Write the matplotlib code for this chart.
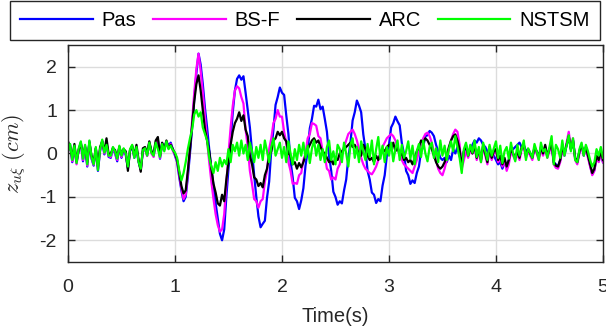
import numpy as np
import matplotlib
matplotlib.use("Agg")
import matplotlib.pyplot as plt

# response z_uxi (cm), sampled every 0.02 s from 0 to 5 s
dt = 0.02

pas = [
    0.08, 0.20, -0.20, 0.12, -0.22, 0.08, 0.24, -0.18, 0.15, -0.30,
    0.28, -0.12, -0.28, 0.12, -0.40, 0.06, 0.28, -0.02, 0.22, -0.08,
    -0.10, 0.12, 0.00, -0.18, 0.15, -0.10, 0.08, -0.04, -0.34, 0.06,
    0.15, -0.10, 0.10, -0.20, -0.36, 0.04, 0.12, -0.04, 0.24, 0.05,
    -0.06, 0.22, 0.30, -0.12, 0.24, 0.12, 0.27, 0.18, 0.25, 0.10,
    -0.05, -0.20, -0.55, -0.85, -1.10, -1.00, -0.55, 0.00, 0.60, 1.25,
    1.85, 2.30, 2.05, 1.60, 1.05, 0.60, 0.10, -0.35, -0.75, -1.15,
    -1.50, -1.85, -2.00, -1.75, -1.00, -0.35, 0.30, 0.95, 1.45, 1.72,
    1.80, 1.70, 1.78, 1.40, 1.00, 0.60, 0.05, -0.50, -1.00, -1.45,
    -1.70, -1.62, -1.55, -1.02, -0.65, 0.08, 0.55, 1.12, 1.30, 1.52,
    1.40, 1.35, 0.88, 0.45, -0.18, -0.55, -1.02, -1.10, -1.28, -1.08,
    -0.80, -0.28, 0.05, 0.58, 0.80, 1.10, 1.08, 1.24, 1.02, 1.08,
    0.80, 0.50, -0.06, -0.40, -0.88, -1.00, -1.18, -1.10, -1.15, -0.85,
    -0.60, -0.10, 0.25, 0.76, 0.95, 1.22, 1.10, 0.95, 0.44, 0.10,
    -0.40, -0.60, -0.90, -0.95, -1.14, -1.05, -1.10, -0.74, -0.50, -0.05,
    0.20, 0.60, 0.70, 0.85, 0.74, 0.65, 0.24, 0.00, -0.40, -0.50,
    -0.70, -0.62, -0.68, -0.45, -0.30, 0.05, 0.15, 0.40, 0.42, 0.52,
    0.48, 0.40, 0.20, 0.05, -0.10, -0.15, -0.10, -0.20, -0.05, -0.15,
    0.10, 0.00, 0.15, -0.05, -0.25, 0.05, 0.15, -0.05, 0.10, 0.20,
    0.30, 0.25, 0.35, 0.30, 0.20, 0.15, 0.05, 0.00, -0.10, -0.05,
    -0.15, -0.25, -0.20, -0.35, -0.20, -0.30, -0.15, 0.05, 0.10, 0.15,
    0.20, 0.25, 0.15, 0.20, 0.05, 0.10, 0.00, -0.05, 0.10, 0.05,
    -0.05, 0.10, 0.00, 0.15, -0.05, 0.10, 0.20, -0.20, -0.25, -0.30,
    -0.15, 0.10, -0.05, 0.20, 0.40, 0.10, 0.30, -0.10, -0.20, 0.05,
    0.20, -0.05, 0.12, -0.05, -0.28, -0.48, -0.38, -0.10, -0.18, 0.00,
    -0.20,
]

bsf = [
    0.10, 0.18, -0.18, 0.15, -0.25, 0.10, 0.22, -0.15, 0.18, -0.28,
    0.26, -0.10, -0.26, 0.10, -0.36, 0.08, 0.30, 0.00, 0.25, -0.06,
    -0.08, 0.14, 0.02, -0.15, 0.16, -0.08, 0.10, -0.02, -0.32, 0.08,
    0.16, -0.08, 0.12, -0.18, -0.38, 0.05, 0.10, -0.06, 0.26, 0.00,
    -0.08, 0.26, 0.32, -0.10, 0.20, 0.08, 0.25, 0.15, 0.22, 0.06,
    -0.02, -0.18, -0.50, -0.80, -1.05, -0.95, -0.45, 0.15, 0.75, 1.40,
    1.95, 2.30, 1.90, 1.40, 0.85, 0.30, -0.20, -0.65, -1.05, -1.40,
    -1.65, -1.80, -1.75, -1.40, -0.70, 0.00, 0.60, 1.10, 1.45, 1.55,
    1.50, 1.30, 1.15, 0.55, 0.15, -0.40, -0.70, -1.05, -1.10, -1.25,
    -1.10, -1.05, -0.65, -0.40, 0.10, 0.35, 0.70, 0.80, 1.00, 0.85,
    0.85, 0.50, 0.25, -0.20, -0.40, -0.70, -0.68, -0.70, -0.50, -0.45,
    -0.15, 0.00, 0.35, 0.45, 0.70, 0.68, 0.64, 0.40, 0.35, 0.05,
    -0.05, -0.35, -0.40, -0.60, -0.55, -0.60, -0.35, -0.25, 0.05, 0.15,
    0.30, 0.45, 0.50, 0.55, 0.45, 0.30, 0.10, -0.10, -0.25, -0.35,
    -0.40, -0.45, -0.48, -0.40, -0.30, -0.15, 0.00, 0.15, 0.25, 0.35,
    0.40, 0.45, 0.40, 0.30, 0.15, 0.00, -0.15, -0.25, -0.30, -0.35,
    -0.40, -0.45, -0.30, -0.15, 0.05, 0.20, 0.35, 0.45, 0.48, 0.40,
    0.25, 0.05, -0.15, -0.35, -0.45, -0.50, -0.35, -0.15, 0.10, 0.30,
    0.45, 0.55, 0.50, 0.20, -0.35, -0.15, 0.05, -0.10, 0.10, 0.00,
    0.15, -0.15, 0.05, -0.20, 0.15, -0.05, -0.25, 0.10, -0.15, 0.00,
    0.05, -0.20, -0.10, -0.30, -0.15, -0.40, -0.25, 0.05, -0.05, -0.15,
    0.00, -0.15, 0.10, 0.15, -0.10, 0.05, -0.05, -0.15, 0.10, 0.00,
    -0.15, 0.10, -0.05, 0.15, -0.10, 0.05, 0.20, -0.25, -0.33, -0.35,
    -0.20, 0.10, -0.05, 0.25, 0.50, 0.15, 0.35, -0.15, -0.25, 0.00,
    0.18, -0.05, 0.10, -0.10, -0.30, -0.50, -0.40, -0.10, -0.20, 0.00,
    -0.20,
]

arc = [
    0.28, 0.15, -0.10, 0.22, -0.18, 0.08, 0.25, -0.05, 0.15, -0.20,
    0.25, -0.05, -0.22, 0.12, -0.30, 0.15, 0.28, 0.05, 0.35, -0.02,
    0.00, 0.12, 0.08, -0.10, 0.15, -0.02, 0.10, 0.05, -0.40, 0.08,
    0.18, -0.05, 0.20, -0.15, -0.42, 0.12, 0.15, 0.00, 0.28, 0.05,
    0.00, 0.30, 0.38, -0.05, 0.25, 0.10, 0.30, 0.12, 0.20, 0.10,
    0.00, -0.15, -0.45, -0.75, -0.92, -0.85, -0.40, 0.10, 0.65, 1.20,
    1.60, 1.80, 1.45, 1.00, 0.55, 0.30, 0.05, -0.35, -0.70, -0.90,
    -1.15, -1.20, -0.95, -1.10, -0.60, -0.20, 0.20, 0.50, 0.70, 0.80,
    0.95, 0.75, 0.88, 0.55, 0.40, -0.05, -0.25, -0.55, -0.60, -0.75,
    -0.68, -0.78, -0.50, -0.35, -0.05, 0.05, 0.30, 0.35, 0.50, 0.42,
    0.50, 0.35, 0.28, 0.00, -0.05, -0.25, -0.20, -0.35, -0.22, -0.32,
    -0.20, -0.05, 0.10, 0.20, 0.30, 0.35, 0.25, 0.30, 0.15, 0.05,
    0.00, -0.10, -0.20, -0.15, -0.25, -0.10, -0.15, 0.00, 0.05, 0.10,
    0.15, 0.20, 0.25, 0.15, 0.20, 0.10, 0.00, -0.05, 0.20, 0.10,
    -0.05, -0.15, -0.10, -0.20, -0.05, -0.15, 0.00, 0.10, 0.05, 0.15,
    0.20, 0.10, 0.25, 0.05, 0.15, -0.05, 0.00, -0.15, -0.10, -0.20,
    -0.15, -0.25, -0.10, 0.05, 0.15, 0.30, 0.25, 0.35, 0.30, 0.20,
    0.10, -0.05, -0.20, -0.30, -0.35, -0.30, -0.20, -0.05, 0.15, 0.30,
    0.40, 0.44, 0.30, 0.10, -0.30, 0.05, 0.20, -0.05, 0.15, 0.00,
    0.20, -0.10, 0.10, -0.15, 0.20, 0.00, -0.20, 0.15, -0.10, 0.05,
    0.10, -0.15, -0.05, -0.25, -0.10, -0.30, -0.15, 0.10, 0.00, -0.10,
    0.05, -0.10, 0.15, 0.20, -0.05, 0.10, 0.00, -0.10, 0.15, 0.05,
    -0.10, 0.15, 0.00, 0.20, -0.05, 0.10, 0.25, -0.20, -0.28, -0.30,
    -0.15, 0.15, 0.00, 0.20, 0.40, 0.10, 0.30, -0.10, -0.20, 0.05,
    0.20, 0.00, 0.15, -0.05, -0.25, -0.45, -0.35, -0.05, -0.15, 0.05,
    -0.15,
]

nstsm = [
    0.05, 0.22, -0.15, 0.18, -0.22, 0.12, 0.28, -0.12, 0.20, -0.25,
    0.30, -0.08, -0.25, 0.15, -0.38, 0.10, 0.32, 0.02, 0.20, -0.05,
    -0.05, 0.15, 0.05, -0.12, 0.18, -0.05, 0.12, 0.00, -0.30, 0.10,
    0.20, -0.10, 0.15, -0.20, -0.35, 0.08, 0.12, -0.05, 0.25, 0.02,
    -0.05, 0.25, 0.10, -0.08, 0.22, 0.05, 0.28, 0.10, 0.18, 0.08,
    0.02, -0.10, -0.40, -0.62, -0.45, -0.20, 0.10, 0.35, 0.55, 0.90,
    1.00, 0.85, 0.95, 0.60, 0.45, 0.30, -0.10, -0.30, -0.45, -0.20,
    -0.40, -0.10, -0.30, -0.15, -0.25, 0.10, -0.20, 0.20, 0.05, 0.25,
    -0.05, 0.30, 0.00, 0.20, -0.15, 0.25, 0.05, -0.20, 0.15, -0.10,
    0.20, -0.15, 0.30, 0.05, -0.20, 0.15, 0.35, -0.05, 0.10, 0.25,
    -0.10, 0.15, -0.20, 0.28, 0.00, -0.25, 0.10, -0.15, 0.20, -0.05,
    0.25, -0.10, 0.18, -0.22, 0.12, 0.30, -0.05, 0.20, -0.15, 0.10,
    -0.20, 0.15, 0.30, -0.15, 0.05, -0.25, 0.20, 0.10, -0.20, 0.25,
    0.00, -0.30, 0.20, 0.35, -0.10, 0.15, -0.20, 0.28, 0.05, -0.15,
    0.22, -0.08, 0.30, -0.25, 0.10, 0.38, -0.12, 0.18, -0.20, 0.15,
    -0.05, 0.25, -0.18, 0.10, 0.30, -0.15, 0.20, -0.10, 0.05, 0.28,
    -0.12, 0.18, -0.25, 0.05, 0.22, -0.08, 0.30, 0.00, -0.18, 0.15,
    0.25, -0.10, 0.12, -0.20, 0.30, -0.05, 0.18, -0.15, 0.10, 0.28,
    0.05, 0.40, 0.15, -0.10, -0.45, 0.10, 0.25, -0.05, 0.20, 0.02,
    0.30, -0.08, 0.15, -0.20, 0.25, 0.05, -0.15, 0.20, -0.05, 0.12,
    0.28, -0.10, 0.18, -0.22, 0.05, 0.15, -0.12, 0.25, 0.00, -0.18,
    0.20, -0.05, 0.10, 0.30, -0.15, 0.12, 0.02, -0.10, 0.22, 0.05,
    -0.15, 0.25, 0.05, 0.10, -0.10, 0.15, 0.40, -0.25, 0.20, 0.10,
    -0.10, 0.30, -0.05, 0.18, 0.42, 0.05, 0.35, -0.15, -0.20, 0.10,
    0.25, -0.05, 0.20, 0.05, -0.15, -0.30, -0.20, 0.10, -0.05, 0.15,
    -0.10,
]

labels = ["Pas", "BS-F", "ARC", "NSTSM"]
colors = ["#0000ff", "#ff00ff", "#000000", "#00ff00"]

t = np.arange(len(pas)) * dt

plt.rcParams["font.family"] = ["Liberation Sans", "DejaVu Sans"]
plt.rcParams["mathtext.fontset"] = "cm"
plt.rcParams["axes.unicode_minus"] = False

fig = plt.figure(figsize=(6.06, 3.35), dpi=100)
ax = fig.add_axes([0.1122, 0.2179, 0.8828, 0.6478])

lines = []
for y, lab, c in zip([pas, bsf, arc, nstsm], labels, colors):
    ln, = ax.plot(t, y, color=c, lw=1.6, label=lab)
    lines.append(ln)

ax.set_xlim(0, 5)
ax.set_ylim(-2.5, 2.5)
ax.set_xticks([0, 1, 2, 3, 4, 5])
ax.set_yticks([-2, -1, 0, 1, 2])
ax.grid(True, color="#dcdcdc", lw=1.0)
ax.set_axisbelow(True)
ax.tick_params(direction="in", top=True, right=True, length=5, width=1,
               labelsize=14, color="#262626", labelcolor="#262626", pad=8)
ax.tick_params(axis="x", pad=12)
for s in ax.spines.values():
    s.set_color("#262626")
    s.set_linewidth(1.0)

ax.set_xlabel("Time(s)", fontsize=14.5, color="#262626", labelpad=8)
ax.set_ylabel(r"$z_{u\xi}\ (cm)$", fontsize=16, color="#262626")
ax.yaxis.set_label_coords(-0.075, 0.5)

leg = fig.legend(lines, labels, loc="lower left",
                 bbox_to_anchor=(0.0165, 0.8806, 0.9736, 0.110),
                 mode="expand", ncol=4, borderaxespad=0, fancybox=False,
                 edgecolor="#262626", fontsize=14.5, handlelength=3.6,
                 handletextpad=0.45, borderpad=0.5, framealpha=1)
leg.get_frame().set_linewidth(1.0)

fig.savefig("out.png", dpi=100)
